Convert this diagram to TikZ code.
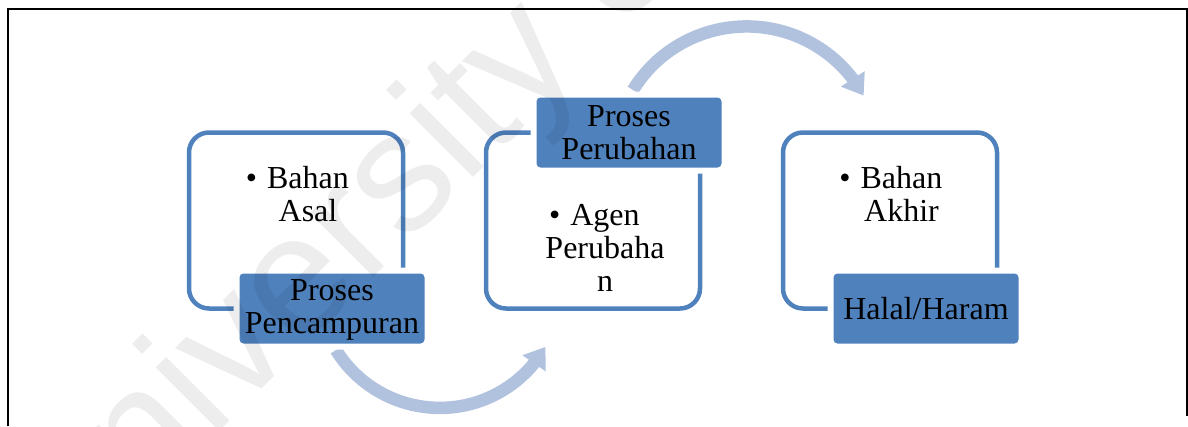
\documentclass[tikz,border=0pt]{standalone}
\usepackage{fontspec}
\setmainfont{Liberation Serif}
\newfontfamily\markfont{Liberation Sans}
\usetikzlibrary{arrows.meta,bending,positioning}
\definecolor{boxblue}{RGB}{79,129,189}
\definecolor{flowblue}{RGB}{176,194,222}

\begin{document}
\begin{tikzpicture}[x=1pt, y=-1pt,
    panel/.style = {draw=boxblue, line width=4.5pt, rounded corners=20pt,
                    minimum width=214pt, minimum height=176pt,
                    inner sep=0pt, outer sep=0pt},
    tag/.style = {fill=boxblue, rounded corners=4pt, minimum width=185pt,
                  minimum height=70pt, inner sep=0pt, outer sep=0pt,
                  align=center, font=\fontsize{32}{33}\selectfont,
                  preaction={draw=white, line width=12pt}},
    bullets/.style = {align=center, inner sep=0pt, anchor=base,
                      font=\fontsize{32}{33}\selectfont},
    flow/.style = {draw=flowblue, line width=12.5pt,
                   -{Triangle[length=20pt, width=27pt]}}]

    \useasboundingbox (0,0) rectangle (1188,426);

    % curved arrows, behind the tags
    \draw[flow] (336,350) coordinate (S1) arc[start angle=148.3, end angle=30, radius=122];
    \draw[flow] (633,90) coordinate (S2) arc[start angle=-148.4, end angle=-28.8, radius=133.5];

    \node[panel] (B1) at (296,220.5) {};
    \node[panel] (B2) at (593,220.5) {};
    \node[panel] (B3) at (890,220.5) {};

    \node[tag, anchor=east] (T1) at ([xshift=21.5pt]B1.south east) {\strut Proses\\Pencampuran};
    \node[tag, anchor=east] (T2) at ([xshift=21.5pt]B2.north east) {Proses\\Perubahan};
    \node[tag, anchor=east] (T3) at ([xshift=21.5pt]B3.south east) {Halal/Haram};

    % base anchor sits on the last line
    \node[bullets] (L1) at (308,221.7) {\llap{\textbullet\hspace{10pt}}Bahan\\Asal};
    \node[bullets] (L2) at (605,291.7) {\llap{\textbullet\hspace{10pt}}Agen\\Perubaha\\n};
    \node[bullets] (L3) at (901.5,221.7) {\llap{\textbullet\hspace{10pt}}Bahan\\Akhir};

    % watermark
    \node[rotate=45, anchor=base west, inner sep=0pt, text=black, text opacity=0.07,
          font=\markfont\fontsize{170}{170}\selectfont] (WM) at (58,593) {University of Malaya};

    \draw[line width=2pt] (7.5,426) -- (7.5,9) -- (1186.5,9) -- (1186.5,416);

\end{tikzpicture}
\end{document}
